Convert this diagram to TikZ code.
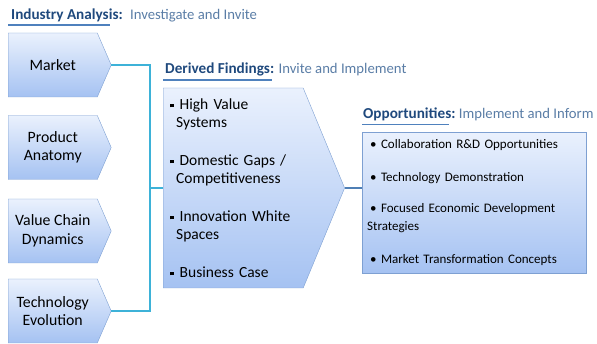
\documentclass[tikz,border=0pt]{standalone}
\usepackage{fontspec}
\setmainfont{Carlito}
\usetikzlibrary{shapes.symbols,positioning}
\definecolor{titleblue}{HTML}{1F497D}
\definecolor{subblue}{HTML}{5A7DA6}
\definecolor{ulineblue}{HTML}{4F81BD}
\definecolor{linecyan}{HTML}{3DB2D8}
\definecolor{linesteel}{HTML}{4F7FB5}
\definecolor{boxedge}{HTML}{7EA0D2}
\definecolor{boxtop}{HTML}{EAF1FD}
\definecolor{boxbot}{HTML}{A5C2F2}
\newcommand\sqitem{\rule[0.25ex]{3.5pt}{3.5pt}\hspace{6pt}}
\begin{document}
\begin{tikzpicture}[x=1pt,y=-1pt]
    \tikzset{
        stage/.style = {shape=signal, signal to=east, signal pointer angle=133,
            draw=boxedge, top color=boxtop, bottom color=boxbot,
            minimum width=103pt, minimum height=64pt, inner sep=0pt,
            align=center, font=\fontsize{15.8}{18.5}\selectfont},
        head/.style = {font=\fontsize{15.2}{17}\bfseries\selectfont, text=titleblue, inner sep=0pt},
        subhead/.style = {font=\fontsize{14.7}{17}\selectfont, text=subblue, inner sep=0pt},
        uline/.style = {draw=ulineblue, line width=1.6pt},
        conn/.style = {draw=linecyan, line width=1.4pt},
    }
    \useasboundingbox (0,0) rectangle (597,344);

    % titles
    \node[head, anchor=base west] (ia) at (11,20) {Industry Analysis:};
    \node[subhead, anchor=base west] (iasub) at ([xshift=7pt]ia.base east) {Investigate and Invite};
    \node[head, anchor=base west] (df) at (165,74) {Derived Findings:};
    \node[subhead, anchor=base west] (dfsub) at ([xshift=4pt]df.base east) {Invite and Implement};
    \node[head, anchor=base west] (op) at (363,119) {Opportunities:};
    \node[subhead, anchor=base west] (opsub) at ([xshift=3pt]op.base east) {Implement and Inform};
    \draw[uline] (8,25) -- (110,25);
    \draw[uline] (163,80) -- (272,80);
    \draw[uline] (362,124.5) -- (449,124.5);

    % industry analysis
    \node[stage, anchor=west] (market) at (8,65) {Market};
    \node[stage, anchor=west] (product) at (8,147.5) {Product\\Anatomy};
    \node[stage, anchor=west] (chain) at (8,231) {Value Chain\\Dynamics};
    \node[stage, anchor=west] (tech) at (8,311) {Technology\\Evolution};

    % derived findings
    \node[stage, anchor=west, signal pointer angle=135, minimum width=181pt,
        minimum height=200pt, align=left, text width=126pt, inner xsep=7pt,
        font=\fontsize{15.5}{18}\selectfont] (derived) at (163,188)
        {\sqitem High Value\\\hspace*{6pt}Systems\\[20pt]
         \sqitem Domestic Gaps /\\\hspace*{6pt}Competitiveness\\[20pt]
         \sqitem Innovation White\\\hspace*{6pt}Spaces\\[20pt]
         \sqitem Business Case};

    % opportunities
    \node[draw=boxedge, top color=boxtop, bottom color=boxbot, anchor=north west,
        minimum width=224pt, minimum height=141pt, text width=214pt, inner xsep=5pt,
        align=left, font=\fontsize{13}{18}\selectfont] (opps) at (362,132)
        {\hspace*{3pt}\textbullet\ Collaboration R\&D Opportunities\\[15pt]
         \hspace*{3pt}\textbullet\ Technology Demonstration\\[13pt]
         \hspace*{3pt}\textbullet\ Focused Economic Development\\Strategies\\[15pt]
         \hspace*{3pt}\textbullet\ Market Transformation Concepts};

    % connectors
    \coordinate (spine) at (150,0);
    \draw[conn] (market.east) -| (spine |- tech.east) -- (tech.east);
    \draw[conn] (spine |- derived.west) -- (derived.west);
    \draw[conn, draw=linesteel] (derived.east) -- (opps.west |- derived.east);

\end{tikzpicture}
\end{document}
